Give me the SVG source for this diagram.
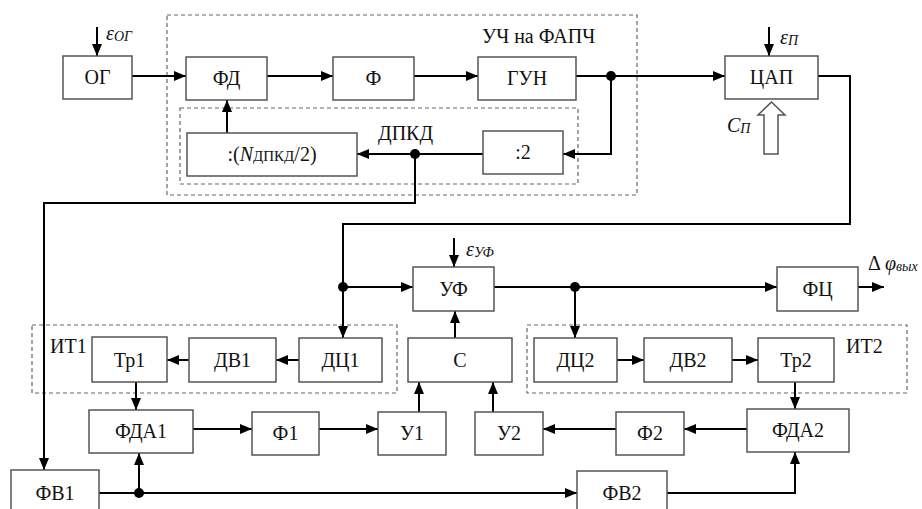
<svg xmlns="http://www.w3.org/2000/svg" width="922" height="509" viewBox="0 0 922 509">
<style>
.b{fill:#fff;stroke:#555;stroke-width:1.5}
.d{fill:none;stroke:#666;stroke-width:1.2;stroke-dasharray:4 3}
text{font-family:"Liberation Serif",serif;font-size:20px;fill:#111}
.t{text-anchor:middle}
.i{font-style:italic}
.c path{fill:none;stroke:#000;stroke-width:2}
.c .a{marker-end:url(#ah)}
.dot{fill:#000}
</style>
<defs>
<marker id="ah" viewBox="0 0 12 10" refX="12" refY="5" markerWidth="12" markerHeight="10" orient="auto" markerUnits="userSpaceOnUse"><path d="M0,0 L12,5 L0,10 z" fill="#000"/></marker>
</defs>
<rect width="922" height="509" fill="#fff"/>
<g id="frames">
<rect class="d" x="167" y="15" width="470" height="180"/>
<rect class="d" x="180" y="108" width="398" height="76"/>
<rect class="d" x="32" y="325" width="365" height="68"/>
<rect class="d" x="527" y="325" width="380" height="68"/>
</g>
<g class="c" id="connectors">
<path class="a" d="M97,27 V56"/>
<path class="a" d="M769,27 V56"/>
<path class="a" d="M454,238 V267"/>
<path class="a" d="M132,76 H186"/>
<path class="a" d="M267,76 H333"/>
<path class="a" d="M414,76 H478"/>
<path class="a" d="M576,76 H725"/>
<path class="a" d="M611,76 V154 H563"/>
<path class="a" d="M483,154 H357"/>
<path class="a" d="M227,133 V100"/>
<path class="a" d="M415,154 V203 H44 V470"/>
<path class="a" d="M818,76 H850 V224 H343 V338"/>
<path class="a" d="M343,287 H413"/>
<path class="a" d="M494,287 H777"/>
<path class="a" d="M575,287 V338"/>
<path class="a" d="M858,287 H884"/>
<path class="a" d="M299,360 H276"/>
<path class="a" d="M189,360 H167"/>
<path class="a" d="M136,382 V410"/>
<path class="a" d="M193,429 H252"/>
<path class="a" d="M319,429 H378"/>
<path class="a" d="M419,412 V382"/>
<path class="a" d="M455,338 V311"/>
<path class="a" d="M617,360 H644"/>
<path class="a" d="M732,360 H758"/>
<path class="a" d="M795,382 V409"/>
<path class="a" d="M747,429 H684"/>
<path class="a" d="M616,429 H543"/>
<path class="a" d="M493,412 V382"/>
<path class="a" d="M99,493 H577"/>
<path class="a" d="M139,493 V453"/>
<path class="a" d="M667,493 H795 V452"/>
<circle class="dot" cx="611" cy="76" r="5"/>
<circle class="dot" cx="415" cy="154" r="5"/>
<circle class="dot" cx="343" cy="287" r="5"/>
<circle class="dot" cx="575" cy="287" r="5"/>
<circle class="dot" cx="139" cy="493" r="5"/>
<polygon points="764,154 764,115 758,115 771.5,102 785,115 778,115 778,154" fill="#fff" stroke="#555" stroke-width="1.5"/>
</g>
<g id="OG"><rect class="b" x="63" y="56" width="69" height="43"/><text class="t" x="97.5" y="84" font-family="Liberation Serif">ОГ</text></g>
<g id="FD"><rect class="b" x="186" y="57" width="81" height="43"/><text class="t" x="226.5" y="85" font-family="Liberation Serif">ФД</text></g>
<g id="F"><rect class="b" x="333" y="57" width="81" height="43"/><text class="t" x="373.5" y="85" font-family="Liberation Serif">Ф</text></g>
<g id="GUN"><rect class="b" x="478" y="57" width="98" height="43"/><text class="t" x="527" y="85" font-family="Liberation Serif">ГУН</text></g>
<g id="CAP"><rect class="b" x="725" y="56" width="93" height="43"/><text class="t" x="771.5" y="84" font-family="Liberation Serif">ЦАП</text></g>
<g id="div2"><rect class="b" x="483" y="131" width="80" height="43"/><text class="t" x="523" y="159" font-family="Liberation Serif">:2</text></g>
<g id="divN"><rect class="b" x="187" y="133" width="170" height="43"/><text class="t" x="272" y="161" font-family="Liberation Serif">:(<tspan class="i">N</tspan><tspan font-size="15">ДПКД</tspan>/2)</text></g>
<g id="UF"><rect class="b" x="413" y="267" width="81" height="44"/><text class="t" x="453.5" y="296" font-family="Liberation Serif">УФ</text></g>
<g id="FC"><rect class="b" x="777" y="267" width="81" height="44"/><text class="t" x="817.5" y="296" font-family="Liberation Serif">ФЦ</text></g>
<g id="C"><rect class="b" x="408" y="338" width="104" height="44"/><text class="t" x="460" y="367" font-family="Liberation Serif">С</text></g>
<g id="Tr1"><rect class="b" x="92" y="337" width="75" height="45"/><text class="t" x="129.5" y="367" font-family="Liberation Serif">Тр1</text></g>
<g id="DV1"><rect class="b" x="189" y="338" width="87" height="44"/><text class="t" x="232.5" y="367" font-family="Liberation Serif">ДВ1</text></g>
<g id="DC1"><rect class="b" x="299" y="338" width="83" height="44"/><text class="t" x="340.5" y="367" font-family="Liberation Serif">ДЦ1</text></g>
<g id="DC2"><rect class="b" x="534" y="338" width="83" height="44"/><text class="t" x="575.5" y="367" font-family="Liberation Serif">ДЦ2</text></g>
<g id="DV2"><rect class="b" x="644" y="338" width="88" height="44"/><text class="t" x="688" y="367" font-family="Liberation Serif">ДВ2</text></g>
<g id="Tr2"><rect class="b" x="758" y="338" width="76" height="44"/><text class="t" x="796" y="367" font-family="Liberation Serif">Тр2</text></g>
<g id="FDA1"><rect class="b" x="89" y="410" width="104" height="43"/><text class="t" x="141" y="438" font-family="Liberation Serif">ФДА1</text></g>
<g id="F1"><rect class="b" x="252" y="412" width="67" height="43"/><text class="t" x="285.5" y="440" font-family="Liberation Serif">Ф1</text></g>
<g id="U1"><rect class="b" x="378" y="412" width="68" height="43"/><text class="t" x="412" y="440" font-family="Liberation Serif">У1</text></g>
<g id="U2"><rect class="b" x="475" y="412" width="68" height="43"/><text class="t" x="509" y="440" font-family="Liberation Serif">У2</text></g>
<g id="F2"><rect class="b" x="616" y="412" width="68" height="43"/><text class="t" x="650" y="440" font-family="Liberation Serif">Ф2</text></g>
<g id="FDA2"><rect class="b" x="747" y="409" width="102" height="43"/><text class="t" x="798" y="437" font-family="Liberation Serif">ФДА2</text></g>
<g id="FV1"><rect class="b" x="11" y="470" width="88" height="45"/><text class="t" x="55" y="500" font-family="Liberation Serif">ФВ1</text></g>
<g id="FV2"><rect class="b" x="577" y="471" width="90" height="45"/><text class="t" x="622" y="500" font-family="Liberation Serif">ФВ2</text></g>
<g id="labels">
<text x="482" y="43" font-family="Liberation Serif">УЧ на ФАПЧ</text>
<text x="378" y="140" font-family="Liberation Serif">ДПКД</text>
<text x="50" y="353" font-family="Liberation Serif">ИТ1</text>
<text x="846" y="353" font-family="Liberation Serif">ИТ2</text>
<text class="i" x="106" y="40" font-family="Liberation Serif">ε<tspan font-size="14" dy="1">ОГ</tspan></text>
<text class="i" x="780" y="44" font-family="Liberation Serif">ε<tspan font-size="14" dy="1">П</tspan></text>
<text class="i" x="466" y="256" font-family="Liberation Serif">ε<tspan font-size="14" dy="1">УФ</tspan></text>
<text class="i" x="727" y="132" font-family="Liberation Serif">С<tspan font-size="14" dy="1">П</tspan></text>
<text x="868" y="270" font-family="Liberation Serif">Δ<tspan class="i" dx="4">φ</tspan><tspan class="i" font-size="14" dy="1">вых</tspan></text>
</g>
</svg>
